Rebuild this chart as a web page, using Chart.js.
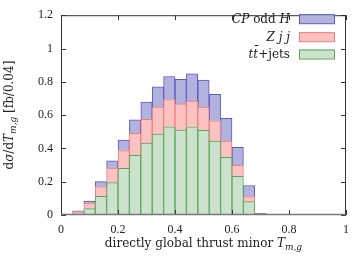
<!DOCTYPE html>
<html><head><meta charset="utf-8">
<script src="https://cdn.jsdelivr.net/npm/chart.js@4/dist/chart.umd.min.js"></script>
<style>html,body{margin:0;padding:0;background:#fff}#wrap{width:357px;height:257px;position:relative}</style>
</head><body><div id="wrap"><canvas id="c"></canvas></div>
<script>
// bin centres (bin width 0.04)
const binCenters = [0.02,0.06,0.10,0.14,0.18,0.22,0.26,0.30,0.34,0.38,0.42,0.46,0.50,0.54,0.58,0.62,0.66,0.70,0.74,0.78,0.82,0.86,0.90,0.94,0.98];
// per-process contributions (stacked)
const ttbarJets = [0.003,0.006,0.038,0.112,0.194,0.280,0.358,0.432,0.486,0.530,0.510,0.530,0.509,0.444,0.347,0.232,0.080,0.003,0,0,0,0,0,0,0];
const zjj       = [0.001,0.013,0.034,0.058,0.088,0.107,0.132,0.143,0.162,0.163,0.157,0.154,0.139,0.122,0.097,0.067,0.030,0.002,0,0,0,0,0,0,0];
const cpOddH    = [0.001,0.006,0.012,0.030,0.044,0.063,0.081,0.103,0.122,0.139,0.148,0.164,0.162,0.158,0.137,0.107,0.067,0.005,0,0,0,0,0,0,0];
const xTicks = [0,0.2,0.4,0.6,0.8,1];
const yTicks = [0,0.2,0.4,0.6,0.8,1,1.2];
const seriesNames = ['ttbar','zjj','cph'];

const SERIF = "'Liberation Serif', 'DejaVu Serif', serif";
const TSERIF = "'DejaVu Serif', serif";
Chart.defaults.font.family = SERIF;
Chart.defaults.font.size = 12;
Chart.defaults.color = '#222';

function pts(arr){ return arr.map((v,i)=>({x:binCenters[i], y:v})); }

function rich(ctx, segs, x, y, align){
  let w = 0;
  segs.forEach(s=>{ ctx.font = s.f; w += ctx.measureText(s.t).width; });
  let sx = align==='center' ? x - w/2 : (align==='right' ? x - w : x);
  ctx.textAlign = 'left'; ctx.textBaseline = 'alphabetic';
  segs.forEach(s=>{ ctx.font = s.f; ctx.fillText(s.t, sx, y + (s.dy||0)); sx += ctx.measureText(s.t).width; });
}
const N = '12px ' + TSERIF, I = 'italic 12px ' + TSERIF, IS = 'italic 9px ' + TSERIF;

const decor = {
  id: 'decor',
  afterDatasetsDraw(chart){
    const {ctx, chartArea:a, scales:{x, y}} = chart;
    ctx.save();
    ctx.strokeStyle = '#333'; ctx.lineWidth = 1;
    ctx.strokeRect(a.left+0.5, a.top+0.5, a.right-a.left-1, a.bottom-a.top-1);
    const L = 5;
    ctx.beginPath();
    xTicks.forEach(v=>{
      const p = Math.round(x.getPixelForValue(v)) + 0.5;
      ctx.moveTo(p, a.bottom); ctx.lineTo(p, a.bottom - L);
      ctx.moveTo(p, a.top); ctx.lineTo(p, a.top + L);
    });
    yTicks.forEach(v=>{
      const p = Math.round(y.getPixelForValue(v)) + 0.5;
      ctx.moveTo(a.left, p); ctx.lineTo(a.left + L, p);
      ctx.moveTo(a.right, p); ctx.lineTo(a.right - L, p);
    });
    ctx.stroke();
    ctx.strokeStyle = '#777'; ctx.lineWidth = 1.5;
    ctx.beginPath(); ctx.moveTo(a.left, a.bottom - 0.5); ctx.lineTo(a.right, a.bottom - 0.5); ctx.stroke();

    // legend
    const ds = chart.data.datasets;
    const rows = [
      {i:2, segs:[{t:'CP', f:I},{t:' odd ', f:N},{t:'H', f:I}], cy:18.7},
      {i:1, segs:[{t:'Z j j', f:I}], cy:36.7},
      {i:0, segs:[{t:'tt\u0304', f:I},{t:'+jets', f:N}], cy:54}
    ];
    rows.forEach(r=>{
      ctx.fillStyle = '#222';
      rich(ctx, r.segs, 290, r.cy + 4, 'right');
      ctx.fillStyle = ds[r.i].backgroundColor;
      ctx.fillRect(299, r.cy - 4.5, 36, 9);
      ctx.strokeStyle = ds[r.i].borderColor; ctx.lineWidth = 1;
      ctx.strokeRect(299.5, r.cy - 4.5 + 0.5, 35, 9);
    });

    // axis titles
    ctx.fillStyle = '#222';
    rich(ctx, [{t:'directly global thrust minor ', f:N},{t:'T', f:I},{t:'m,g', f:IS, dy:3}], (a.left+a.right)/2, 247, 'center');
    ctx.save();
    ctx.translate(13, (a.top+a.bottom)/2);
    ctx.rotate(-Math.PI/2);
    rich(ctx, [{t:'d', f:N},{t:'σ', f:I},{t:'/d', f:N},{t:'T', f:I},{t:'m,g', f:IS, dy:3},{t:' [fb/0.04]', f:N}], 0, 0, 'center');
    ctx.restore();
    ctx.restore();
  }
};

new Chart(document.getElementById('c'), {
  type: 'bar',
  data: {
    datasets: [
      {label: seriesNames[0], data: pts(ttbarJets), backgroundColor: 'rgb(205,226,205)', borderColor: 'rgb(90,165,90)', borderWidth: 1},
      {label: seriesNames[1], data: pts(zjj), backgroundColor: 'rgb(251,194,194)', borderColor: 'rgb(240,125,125)', borderWidth: 1},
      {label: seriesNames[2], data: pts(cpOddH), backgroundColor: 'rgb(178,178,222)', borderColor: 'rgb(88,88,186)', borderWidth: 1}
    ]
  },
  options: {
    responsive: true, maintainAspectRatio: false, animation: false,
    layout: {autoPadding: false, padding: {left: 0, right: 6, top: 5, bottom: 0}},
    datasets: {bar: {barPercentage: 1, categoryPercentage: 1}},
    plugins: {legend: {display: false}, tooltip: {enabled: false}},
    scales: {
      x: {
        type: 'linear', stacked: true, offset: false, min: 0, max: 1,
        grid: {display: false, drawTicks: false}, border: {display: false},
        afterBuildTicks: s => { s.ticks = xTicks.map(v=>({value:v})); },
        afterFit: s => { s.height = 42; },
        ticks: {padding: 8, maxRotation: 0, autoSkip: false, callback: v => String(v)}
      },
      y: {
        stacked: true, min: 0, max: 1.2,
        grid: {display: false, drawTicks: false}, border: {display: false},
        afterBuildTicks: s => { s.ticks = yTicks.map(v=>({value:v})); },
        afterFit: s => { s.width = 61; },
        ticks: {padding: 8, autoSkip: false, callback: v => String(v)}
      }
    }
  },
  plugins: [decor]
});
</script></body></html>
